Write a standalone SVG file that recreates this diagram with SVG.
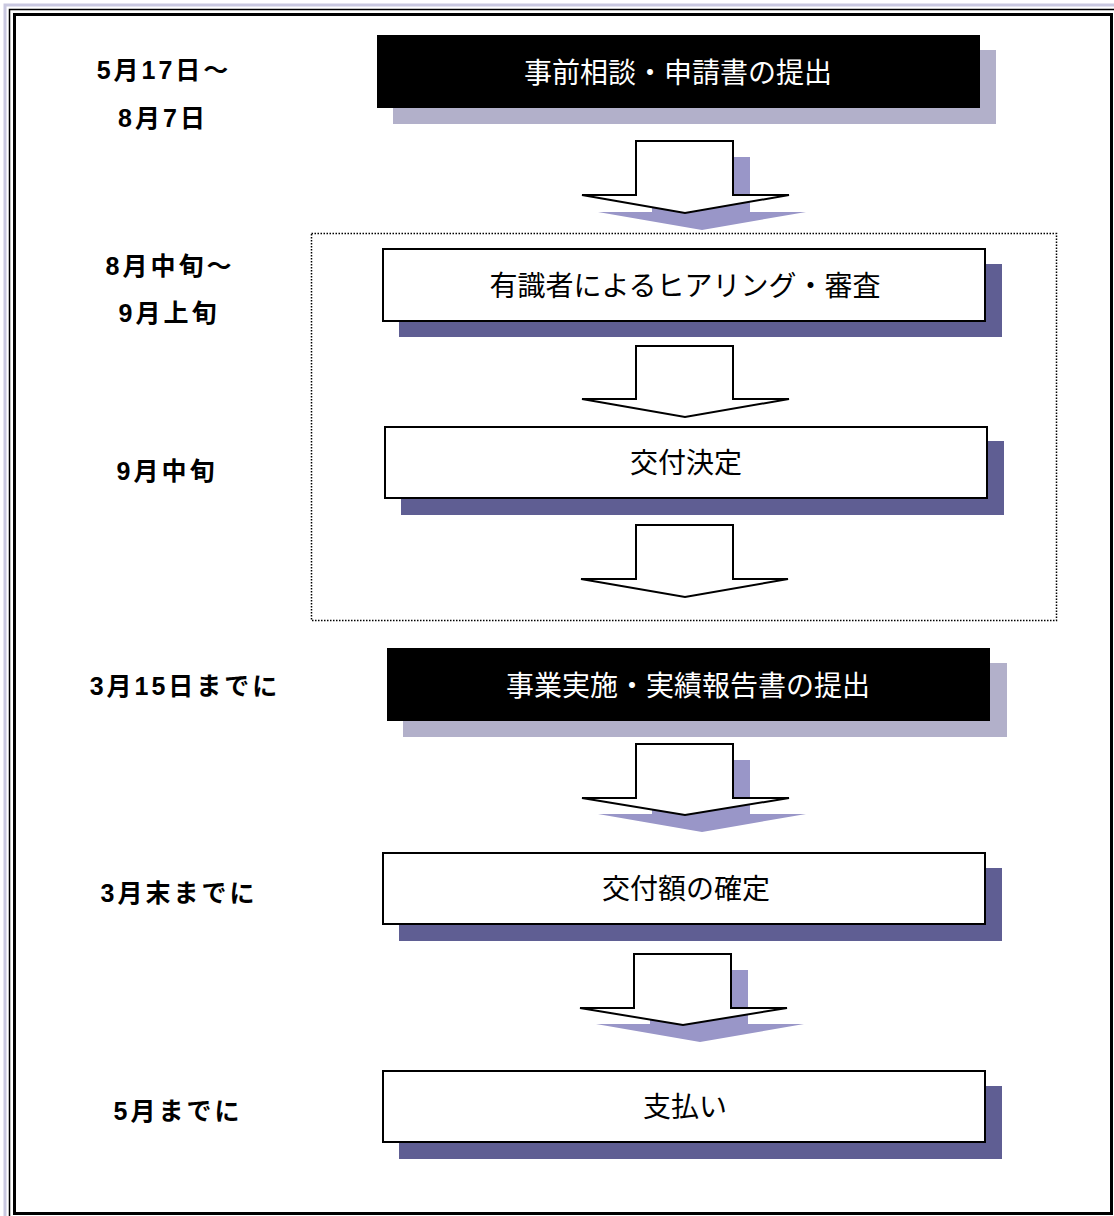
<svg xmlns="http://www.w3.org/2000/svg" width="1114" height="1216" viewBox="0 0 1114 1216">
<style>
.lbl{font-family:"Liberation Sans","Noto Sans CJK JP",sans-serif;font-weight:bold;font-size:25px;letter-spacing:3px;fill:#000;text-anchor:middle;dominant-baseline:central}
.ntx{font-family:"Noto Sans CJK JP",sans-serif;font-size:28px;text-anchor:middle;dominant-baseline:central}
.wbox{fill:#fff;stroke:#000;stroke-width:2}
.bbox{fill:#000}
.sh1{fill:#b2b0ca}
.sh2{fill:#5f5e93}
.ash{fill:#9996c8}
.arr{fill:#fff;stroke:#000;stroke-width:2;stroke-linejoin:miter}
</style>
<rect width="1114" height="1216" fill="#fff"/>
<g id="frame" fill="none">
<rect x="5" y="5" width="1130" height="1240" stroke="#c9c8e0" stroke-width="3"/>
<rect x="9.5" y="9.5" width="1120" height="1230" stroke="#000" stroke-width="1.5"/>
<rect x="14.5" y="14.5" width="1097" height="1199" stroke="#000" stroke-width="3"/>
</g>
<rect id="group-box" x="311.5" y="233.5" width="745" height="387" fill="none" stroke="#000" stroke-width="1.5" stroke-dasharray="1.5,1.5"/>
<g id="labels">
<text class="lbl" x="164" y="70" letter-spacing="4">5月17日～</text>
<text class="lbl" x="163" y="118">8月7日</text>
<text class="lbl" x="170" y="266">8月中旬～</text>
<text class="lbl" x="169" y="313">9月上旬</text>
<text class="lbl" x="167" y="471">9月中旬</text>
<text class="lbl" x="185" y="686">3月15日までに</text>
<text class="lbl" x="179" y="893">3月末までに</text>
<text class="lbl" x="178" y="1111">5月までに</text>
</g>
<g id="connectors">
<polygon class="ash" points="652,157 750,157 750,212 806,212 702,230 598,212 652,212"/>
<polygon class="arr" points="636,141 733,141 733,195 789,195 685,213 582,195 636,195"/>
<polygon class="arr" points="636,346 733,346 733,399 789,399 685,417 582,399 636,399"/>
<polygon class="arr" points="636,525 733,525 733,579 788,579 685,597 581,579 636,579"/>
<polygon class="ash" points="652,760 750,760 750,814 806,814 702,832 598,814 652,814"/>
<polygon class="arr" points="636,744 733,744 733,798 789,798 685,815 582,798 636,798"/>
<polygon class="ash" points="650,970 748,970 748,1024 804,1024 700,1042 596,1024 650,1024"/>
<polygon class="arr" points="634,954 731,954 731,1008 787,1008 683,1025 580,1008 634,1008"/>
</g>
<g id="node1">
<rect class="sh1" x="393" y="50" width="603" height="74"/>
<rect class="bbox" x="377" y="35" width="603" height="73"/>
<text class="ntx" x="678" y="71" fill="#fff">事前相談・申請書の提出</text>
</g>
<g id="node2">
<rect class="sh2" x="399" y="264" width="603" height="73"/>
<rect class="wbox" x="383" y="249" width="602" height="72"/>
<text class="ntx" x="685" y="284">有識者によるヒアリング・審査</text>
</g>
<g id="node3">
<rect class="sh2" x="401" y="441" width="603" height="74"/>
<rect class="wbox" x="385" y="427" width="602" height="71"/>
<text class="ntx" x="686" y="461">交付決定</text>
</g>
<g id="node4">
<rect class="sh1" x="403" y="663" width="604" height="74"/>
<rect class="bbox" x="387" y="648" width="603" height="73"/>
<text class="ntx" x="688" y="684" fill="#fff">事業実施・実績報告書の提出</text>
</g>
<g id="node5">
<rect class="sh2" x="399" y="868" width="603" height="73"/>
<rect class="wbox" x="383" y="853" width="602" height="71"/>
<text class="ntx" x="686" y="887">交付額の確定</text>
</g>
<g id="node6">
<rect class="sh2" x="399" y="1086" width="603" height="73"/>
<rect class="wbox" x="383" y="1071" width="602" height="71"/>
<text class="ntx" x="685" y="1105">支払い</text>
</g>
</svg>
